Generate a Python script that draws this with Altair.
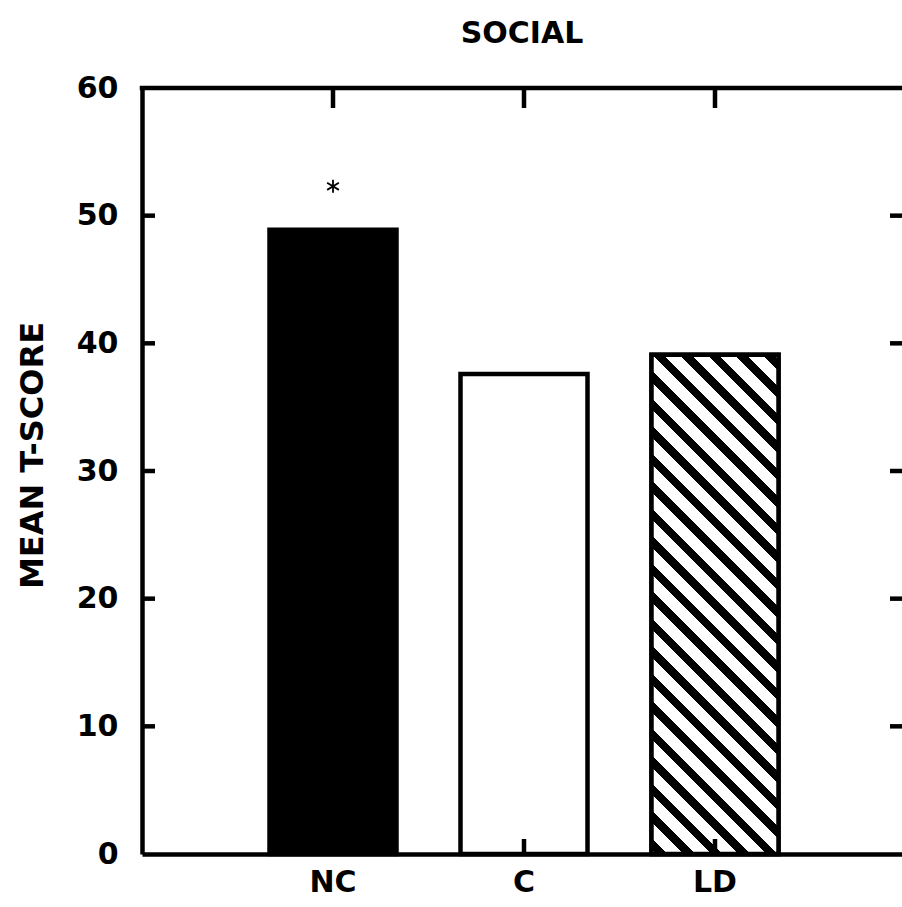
import altair as alt
import pandas as pd

# ---- data ----
groups = ["NC", "C", "LD"]
means = [48.9, 37.6, 39.1]
fills = ["black", "white", "white"]
star_group = ["NC"]
star_value = [52.3]
y_label_values = [0, 10, 20, 30, 40, 50, 60]
y_inner_ticks = [10, 20, 30, 40, 50]

# ---- layout / style ----
FONT = "DejaVu Sans"
W, H = 760, 766          # plot area (right frame edge falls just outside the window)
XR = 764                 # x range end
STEP = XR / 4
BAND = 127
P_IN = 1 - BAND / STEP
P_OUT = (4 - (3 - P_IN)) / 2
LW = 4.5

xscale = alt.Scale(domain=groups, range=[0, XR], paddingInner=P_IN, paddingOuter=P_OUT)
yscale = alt.Scale(domain=[0, 60], nice=False, zero=True)

df = pd.DataFrame({"group": groups, "mean": means, "fill": fills})
star_df = pd.DataFrame({"group": star_group, "mean": star_value})
yt_df = pd.DataFrame({"mean": y_inner_ticks})
one = pd.DataFrame({"k": [0]})

# hatch fill for LD bar: diagonal stripes via hard-stop linear gradient (bbox units)
ld_h = means[2] / 60 * H
span = BAND + ld_h
k = span / (BAND ** 2 + ld_h ** 2)
a, b = k * BAND, k * ld_h
period, black = 27.5, 11.5
stops = [{"offset": 0, "color": "white"}]
s = 5.0
while s < span:
    o1 = s / span
    o2 = min((s + black) / span, 1)
    stops += [
        {"offset": o1, "color": "white"},
        {"offset": o1, "color": "black"},
        {"offset": o2, "color": "black"},
        {"offset": o2, "color": "white"},
    ]
    s += period
stops.append({"offset": 1, "color": "white"})
hatch = {"gradient": "linear", "x1": 0, "y1": 1, "x2": a, "y2": 1 - b, "stops": stops}

x_axis = alt.Axis(
    title=None, labelFont=FONT, labelFontWeight="bold", labelFontSize=30,
    labelColor="black", ticks=False, tickSize=0, domain=True, domainColor="black",
    domainWidth=LW, labelPadding=13, labelAngle=0, grid=False,
)
y_axis = alt.Axis(
    values=y_label_values, title="MEAN T-SCORE", titleFont=FONT, titleFontWeight="bold",
    titleFontSize=32, titleColor="black", titleAngle=270, titleBaseline="alphabetic",
    titleAlign="center", titleX=-100, titleY=367,
    labelFont=FONT, labelFontWeight="bold", labelFontSize=30, labelColor="black",
    ticks=False, tickSize=0, grid=False, domain=True, domainColor="black",
    domainWidth=LW, labelPadding=24,
)

X = alt.X("group:N", scale=xscale, axis=x_axis, sort=groups)
Y = alt.Y("mean:Q", scale=yscale, axis=y_axis)

bars = alt.Chart(df).mark_bar(stroke="black", strokeWidth=LW).encode(
    x=X, y=Y, fill=alt.Fill("fill:N", scale=None),
)

ld_bar = alt.Chart(df).transform_filter(alt.datum.group == "LD").mark_bar(
    fill=hatch, stroke="black", strokeWidth=LW
).encode(x=X, y=Y)

star_path = "M0,-1L0,1M-0.9,-0.55L0.9,0.55M-0.9,0.55L0.9,-0.55"
star = alt.Chart(star_df).mark_point(
    shape=star_path, filled=False, stroke="black", strokeWidth=1.8, size=170, opacity=1
).encode(x=X, y=Y)

left_ticks = alt.Chart(yt_df).mark_rule(color="black", strokeWidth=LW).encode(
    y=Y, x=alt.value(0), x2=alt.value(13)
)
right_ticks = alt.Chart(yt_df).mark_rule(color="black", strokeWidth=LW).encode(
    y=Y, x=alt.value(W - 12), x2=alt.value(XR)
)
top_ticks = alt.Chart(df).mark_rule(color="black", strokeWidth=LW).encode(
    x=X, y=alt.value(0), y2=alt.value(20)
)
bottom_ticks = alt.Chart(df).mark_rule(color="black", strokeWidth=LW).encode(
    x=X, y=alt.value(H), y2=alt.value(H - 15)
)
top_line = alt.Chart(one).mark_rule(color="black", strokeWidth=LW, strokeCap="square").encode(
    x=alt.value(0), x2=alt.value(XR), y=alt.value(0)
)

chart = alt.layer(
    bars, ld_bar, star, left_ticks, right_ticks, top_ticks, bottom_ticks, top_line
).properties(
    width=W, height=H,
    title=alt.TitleParams(
        "SOCIAL", font=FONT, fontWeight="bold", fontSize=30, color="black",
        anchor="middle", baseline="alphabetic", offset=0,
    ),
    padding={"left": 142, "top": 88, "right": 0, "bottom": 53},
    autosize=alt.AutoSizeParams(type="none"),
).configure_view(strokeWidth=0).configure(background="white")

chart.save("out.html", embed_options={"renderer": "svg", "actions": False})
